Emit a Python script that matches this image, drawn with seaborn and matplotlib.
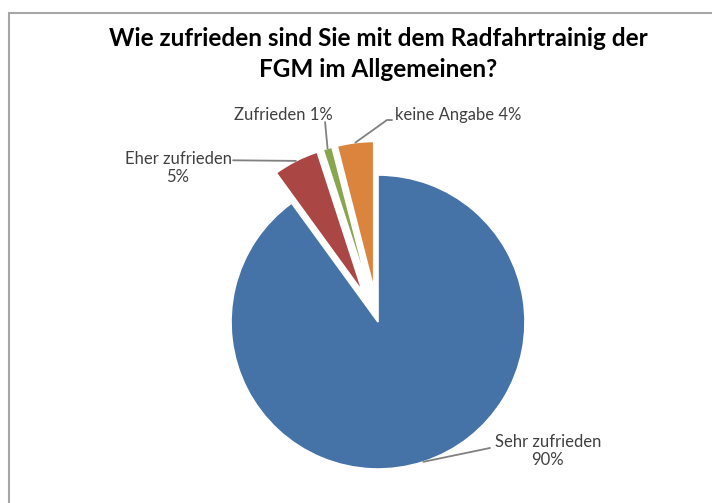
import numpy as np
import matplotlib
matplotlib.use("Agg")
import matplotlib.pyplot as plt
import seaborn as sns
from matplotlib.lines import Line2D

sns.set_style("white")
plt.rcParams['font.family'] = ['Lato', 'DejaVu Sans']

# ---- data ----
categories = ["Sehr zufrieden", "Eher zufrieden", "Zufrieden", "keine Angabe"]
values = [90, 5, 1, 4]
label_texts = ["Sehr zufrieden\n90%", "Eher zufrieden\n5%", "Zufrieden 1%", "keine Angabe 4%"]
title = "Wie zufrieden sind Sie mit dem Radfahrtrainig der\nFGM im Allgemeinen?"

# ---- style ----
colors = ["#4572A7", "#AA4643", "#89A54E", "#DB843D"]
explode = [0.0, 0.23, 0.23, 0.23]
W, H = 712, 503
DPI = 100
cx, cy, R = 378, 322, 147  # pixel layout of pie

fig = plt.figure(figsize=(W / DPI, H / DPI), dpi=DPI)
fig.patch.set_facecolor("white")

ax = fig.add_axes([(cx - R) / W, (H - cy - R) / H, 2 * R / W, 2 * R / H])
wedges, _ = ax.pie(values, colors=colors, explode=explode, startangle=90,
                   counterclock=False, radius=1,
                   wedgeprops=dict(edgecolor="white", linewidth=1.2))
ax.set_xlim(-1, 1)
ax.set_ylim(-1, 1)
ax.set_aspect("equal")
ax.axis("off")
for w in wedges:
    w.set_clip_on(False)

# label layout: text center, and leader-line path (elbow) in data units
text_pos = [(1.156, -0.878), (-1.36, 1.048), (-0.646, 1.408), (0.544, 1.408)]
elbows = [[(0.762, -0.857)], [(-0.986, 1.10)], [(-0.36, 1.36)], [(0.061, 1.374), (0.095, 1.374)]]
line_col = "#808080"
txt_col = "#404040"

for i, w in enumerate(wedges):
    mid = np.deg2rad((w.theta1 + w.theta2) / 2)
    ox, oy = w.center
    px, py = ox + w.r * np.cos(mid), oy + w.r * np.sin(mid)
    pts = [(px, py)] + elbows[i]
    xs, ys = zip(*pts)
    ax.add_line(Line2D(xs, ys, color=line_col, lw=1.3, clip_on=False))
    ax.text(text_pos[i][0], text_pos[i][1], label_texts[i], ha="center", va="center",
            fontsize=12, color=txt_col, linespacing=1.2, clip_on=False)

fig.text(cx / W, 1 - 54 / H, title, ha="center", va="center", fontsize=17.5,
         fontweight="bold", color="black", linespacing=1.4)

# frame lines
fig.add_artist(Line2D([9 / W, 9 / W], [0, 1 - 13 / H], transform=fig.transFigure,
                      color="#a6a6a6", lw=1.5))
fig.add_artist(Line2D([9 / W, 1], [1 - 13 / H, 1 - 13 / H], transform=fig.transFigure,
                      color="#a6a6a6", lw=1.5))

fig.savefig("out.png", dpi=DPI, facecolor="white")
